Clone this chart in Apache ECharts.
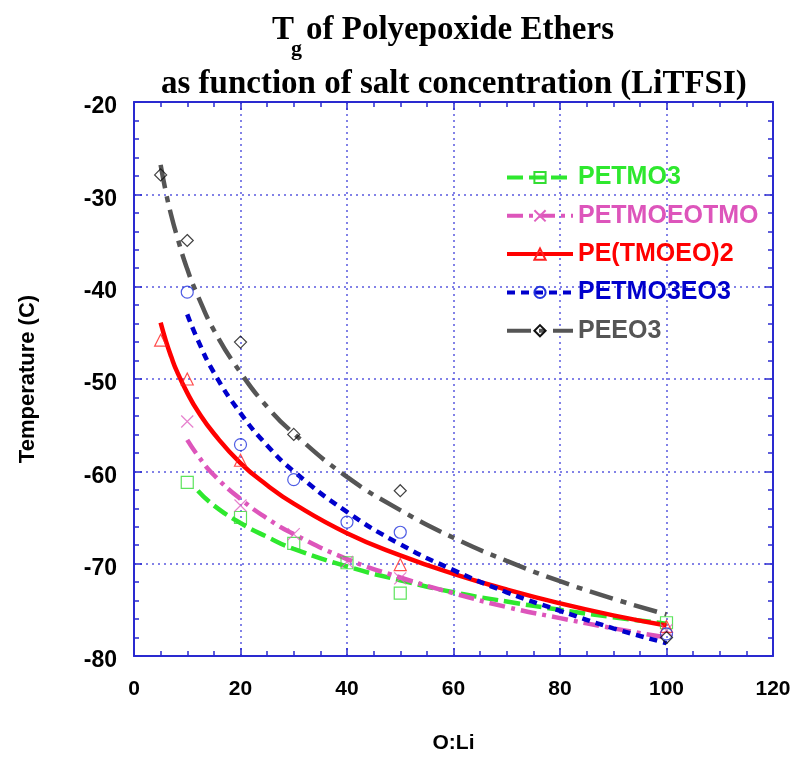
<!DOCTYPE html>
<html>
<head>
<meta charset="utf-8">
<script src="https://cdn.jsdelivr.net/npm/echarts@6/dist/echarts.min.js"></script>
<style>
html,body{margin:0;padding:0;background:#fff;}
#chart{width:799px;height:759px;}
</style>
</head>
<body>
<div id="chart"></div>
<script>
// ---- Data ----
var seriesNames = ['PETMO3', 'PETMOEOTMO', 'PE(TMOEO)2', 'PETMO3EO3', 'PEEO3'];

// measured points
var ptX_PETMO3 = [10, 20, 30, 40, 50, 100];
var ptY_PETMO3 = [-61.2, -65.0, -67.8, -69.9, -73.2, -76.4];
var ptX_PETMOEOTMO = [10, 20, 30, 40, 50, 100];
var ptY_PETMOEOTMO = [-54.6, -63.7, -66.8, -69.8, -71.6, -77.2];
var ptX_PETMOEO2 = [5, 10, 20, 50, 100];
var ptY_PETMOEO2 = [-45.8, -50.0, -58.8, -70.1, -76.8];
var ptX_PETMO3EO3 = [10, 20, 30, 40, 50, 100];
var ptY_PETMO3EO3 = [-40.6, -57.1, -60.9, -65.5, -66.6, -77.6];
var ptX_PEEO3 = [5, 10, 20, 30, 50, 100];
var ptY_PEEO3 = [-27.9, -35.0, -46.0, -56.0, -62.1, -78.0];

// fitted curves, points
var fitX_PETMO3 = [12, 15, 20, 25, 30, 40, 50, 60, 70, 80, 90, 100];
var fitY_PETMO3 = [-62.1, -63.7, -65.6, -67.1, -68.4, -70.3, -71.8, -73.1, -74.1, -75.0, -75.8, -76.5];
var fitX_PETMOEOTMO = [10, 12, 15, 20, 25, 30, 40, 50, 60, 70, 80, 90, 100];
var fitY_PETMOEOTMO = [-56.6, -58.3, -60.4, -63.0, -65.1, -66.8, -69.5, -71.5, -73.2, -74.7, -75.9, -77.0, -78.0];
var fitX_PETMOEO2 = [5, 6, 7, 8, 10, 12, 15, 20, 25, 30, 40, 50, 60, 70, 80, 90, 100];
var fitY_PETMOEO2 = [-43.9, -45.9, -47.6, -49.1, -51.5, -53.5, -55.9, -59.1, -61.5, -63.5, -66.7, -69.1, -71.1, -72.8, -74.3, -75.6, -76.7];
var fitX_PETMO3EO3 = [10, 12, 15, 20, 25, 30, 40, 50, 60, 70, 80, 90, 100];
var fitY_PETMO3EO3 = [-43.0, -45.8, -49.3, -53.7, -57.2, -60.0, -64.4, -67.9, -70.7, -73.1, -75.1, -77.0, -78.6];
var fitX_PEEO3 = [5, 6, 7, 8, 10, 12, 15, 20, 25, 30, 40, 50, 60, 70, 80, 90, 100];
var fitY_PEEO3 = [-26.8, -29.8, -32.3, -34.4, -38.1, -41.0, -44.7, -49.3, -53.0, -55.9, -60.6, -64.2, -67.2, -69.7, -71.9, -73.8, -75.5];

var xTicks = [0, 20, 40, 60, 80, 100, 120];
var yTicks = [-80, -70, -60, -50, -40, -30, -20];

// ---- Build ----
function pairs(xs, ys) { return xs.map(function (x, i) { return [x, ys[i]]; }); }

var colors = ['#2ee82e', '#dd55bb', '#ff0000', '#0000cc', '#555555'];
var markerColors = ['#33dd33', '#e060c0', '#ff2020', '#2233dd', '#111111'];
var symbols = ['rect', 'path://M0,0L10,10M10,0L0,10', 'triangle', 'circle', 'diamond'];
var dashes = [[16, 6], [16, 6, 4, 6], 'solid', [8, 6], [24, 8, 6, 8]];
var fitXs = [fitX_PETMO3, fitX_PETMOEOTMO, fitX_PETMOEO2, fitX_PETMO3EO3, fitX_PEEO3];
var fitYs = [fitY_PETMO3, fitY_PETMOEOTMO, fitY_PETMOEO2, fitY_PETMO3EO3, fitY_PEEO3];
var ptXs = [ptX_PETMO3, ptX_PETMOEOTMO, ptX_PETMOEO2, ptX_PETMO3EO3, ptX_PEEO3];
var ptYs = [ptY_PETMO3, ptY_PETMOEOTMO, ptY_PETMOEO2, ptY_PETMO3EO3, ptY_PEEO3];

var series = [];
seriesNames.forEach(function (name, i) {
  series.push({
    name: name,
    type: 'line',
    smooth: true,
    showSymbol: false,
    symbol: symbols[i],
    symbolSize: 12,
    silent: true,
    data: pairs(fitXs[i], fitYs[i]),
    lineStyle: { color: colors[i], width: 4.5, type: dashes[i] },
    itemStyle: { color: 'rgba(0,0,0,0)', borderColor: markerColors[i], borderWidth: 1.2 },
    z: 2
  });
});
seriesNames.forEach(function (name, i) {
  series.push({
    name: name + ' data',
    type: 'scatter',
    symbol: symbols[i],
    symbolSize: 12,
    silent: true,
    data: pairs(ptXs[i], ptYs[i]),
    itemStyle: { color: 'rgba(0,0,0,0)', borderColor: markerColors[i], borderWidth: 1.2 },
    z: 3
  });
});

var axisBlue = '#2a2ad0';
var gridBlue = '#5a5ae0';
var sansFam = 'Liberation Sans, Arial, sans-serif';
var serifFont = '"Liberation Serif", "Times New Roman", serif';

var chart = echarts.init(document.getElementById('chart'), null, { renderer: 'canvas' });
chart.setOption({
  animation: false,
  backgroundColor: '#fff',
  graphic: [
    { type: 'text', left: 272, top: 14, style: { text: 'T', font: 'bold 33px ' + serifFont, fill: '#000' } },
    { type: 'text', left: 291, top: 38, style: { text: 'g', font: 'bold 22px ' + serifFont, fill: '#000' } },
    { type: 'text', left: 306, top: 14, style: { text: 'of Polyepoxide Ethers', font: 'bold 33px ' + serifFont, fill: '#000' } },
    { type: 'text', left: 161, top: 68, style: { text: 'as function of salt concentration (LiTFSI)', font: 'bold 33px ' + serifFont, fill: '#000' } }
  ],
  legend: {
    orient: 'vertical',
    left: 505,
    top: 165,
    padding: 0,
    itemWidth: 66,
    itemHeight: 14,
    itemGap: 13.3,
    selectedMode: false,
    lineStyle: { width: 4 },
    textStyle: { fontWeight: 'bold', fontSize: 25, fontFamily: sansFam },
    data: seriesNames.map(function (n, i) { return { name: n, textStyle: { color: colors[i] } }; })
  },
  grid: { left: 134, right: 26, top: 102, bottom: 98, containLabel: false },
  xAxis: [
    {
      type: 'value', min: xTicks[0], max: xTicks[xTicks.length - 1], interval: 20,
      position: 'bottom',
      axisLine: { show: true, onZero: false, lineStyle: { color: axisBlue, width: 2 } },
      axisTick: { show: true, inside: true, length: 8, lineStyle: { color: axisBlue, width: 1.5 } },
      minorTick: { show: true, splitNumber: 4, length: 5, lineStyle: { color: axisBlue, width: 1.5 } },
      splitLine: { show: true, lineStyle: { color: gridBlue, width: 1.5, type: [2, 4] } },
      axisLabel: { margin: 23, color: '#000', fontWeight: 'bold', fontSize: 21, fontFamily: sansFam },
      name: 'O:Li', nameLocation: 'middle', nameGap: 77,
      nameTextStyle: { color: '#000', fontWeight: 'bold', fontSize: 21, fontFamily: sansFam }
    },
    {
      type: 'value', min: xTicks[0], max: xTicks[xTicks.length - 1], interval: 20,
      position: 'top',
      axisLine: { show: true, onZero: false, lineStyle: { color: axisBlue, width: 2 } },
      axisTick: { show: true, inside: true, length: 8, lineStyle: { color: axisBlue, width: 1.5 } },
      minorTick: { show: true, splitNumber: 4, length: 5, lineStyle: { color: axisBlue, width: 1.5 } },
      splitLine: { show: false },
      axisLabel: { show: false }
    }
  ],
  yAxis: [
    {
      type: 'value', min: yTicks[0], max: yTicks[yTicks.length - 1], interval: 10,
      position: 'left',
      axisLine: { show: true, onZero: false, lineStyle: { color: axisBlue, width: 2 } },
      axisTick: { show: true, inside: true, length: 8, lineStyle: { color: axisBlue, width: 1.5 } },
      minorTick: { show: true, splitNumber: 5, length: 5, lineStyle: { color: axisBlue, width: 1.5 } },
      splitLine: { show: true, lineStyle: { color: gridBlue, width: 1.5, type: [2, 4] } },
      axisLabel: {
        margin: 17,
        formatter: function (v) { return '{v|' + v + '}'; },
        rich: { v: { padding: [10, 0, 0, 0], color: '#000', fontWeight: 'bold', fontSize: 23, fontFamily: sansFam } }
      },
      name: 'Temperature (C)', nameLocation: 'middle', nameGap: 95,
      nameTextStyle: { color: '#000', fontWeight: 'bold', fontSize: 22, fontFamily: sansFam }
    },
    {
      type: 'value', min: yTicks[0], max: yTicks[yTicks.length - 1], interval: 10,
      position: 'right',
      axisLine: { show: true, onZero: false, lineStyle: { color: axisBlue, width: 2 } },
      axisTick: { show: true, inside: true, length: 8, lineStyle: { color: axisBlue, width: 1.5 } },
      minorTick: { show: true, splitNumber: 5, length: 5, lineStyle: { color: axisBlue, width: 1.5 } },
      splitLine: { show: false },
      axisLabel: { show: false }
    }
  ],
  series: series
});
</script>
</body>
</html>
